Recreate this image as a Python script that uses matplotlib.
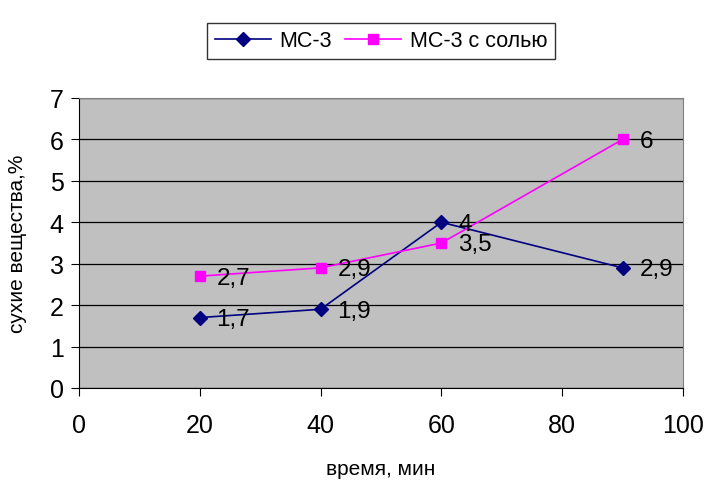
import matplotlib
matplotlib.use("Agg")
import matplotlib.pyplot as plt
from matplotlib.ticker import MultipleLocator

plt.rcParams['font.family'] = ['Liberation Sans', 'DejaVu Sans']

time_min = [20, 40, 60, 90]
ms3 = [1.7, 1.9, 4.0, 2.9]
ms3_salt = [2.7, 2.9, 3.5, 6.0]
series_names = ["МС-3", "МС-3 с солью"]

def fmt(v):
    s = f"{v:g}"
    return s.replace(".", ",")

fig = plt.figure(figsize=(7.07, 4.81), dpi=100)
ax = fig.add_axes([79 / 707, 1 - 389 / 481, (683 - 79) / 707, (389 - 99) / 481])
ax.set_facecolor("#c0c0c0")

l1, = ax.plot(time_min, ms3, color="#000080", marker="D", markersize=7, lw=1.2,
              label=series_names[0], clip_on=False, zorder=3)
l2, = ax.plot(time_min, ms3_salt, color="#ff00ff", marker="s", markersize=7, lw=1.2,
              label=series_names[1], clip_on=False, zorder=3)

for xs, ys in [(time_min, ms3), (time_min, ms3_salt)]:
    for x, y in zip(xs, ys):
        ax.annotate(fmt(y), (x, y), xytext=(12, -1), textcoords="offset points",
                    va="center", ha="left", fontsize=17.5, zorder=4)

ax.set_xlim(0, 100)
ax.set_ylim(0, 7)
ax.xaxis.set_major_locator(MultipleLocator(20))
ax.yaxis.set_major_locator(MultipleLocator(1))
ax.yaxis.grid(True, color="black", lw=0.9)
ax.set_axisbelow(True)
for side in ["top", "right"]:
    ax.spines[side].set_color("#808080")
ax.spines["left"].set_color("black")
ax.spines["bottom"].set_color("black")
ax.tick_params(axis="both", labelsize=18, length=6, direction="out", color="black")
ax.tick_params(axis="x", pad=12)
ax.tick_params(axis="y", pad=5)

ax.set_xlabel("время, мин", fontsize=15, labelpad=16)
ax.set_ylabel("сухие вещества,%", fontsize=15, labelpad=16)

leg = fig.legend(handles=[l1, l2], loc="upper center", bbox_to_anchor=(381 / 707, 1 - 13 / 481),
                 ncol=2, fontsize=15.5, frameon=True, fancybox=False, edgecolor="black",
                 handlelength=2.6, columnspacing=0.6, handletextpad=0.4, borderpad=0.35)
leg.get_frame().set_linewidth(1.0)

fig.savefig("out.png", dpi=100, facecolor="white")
